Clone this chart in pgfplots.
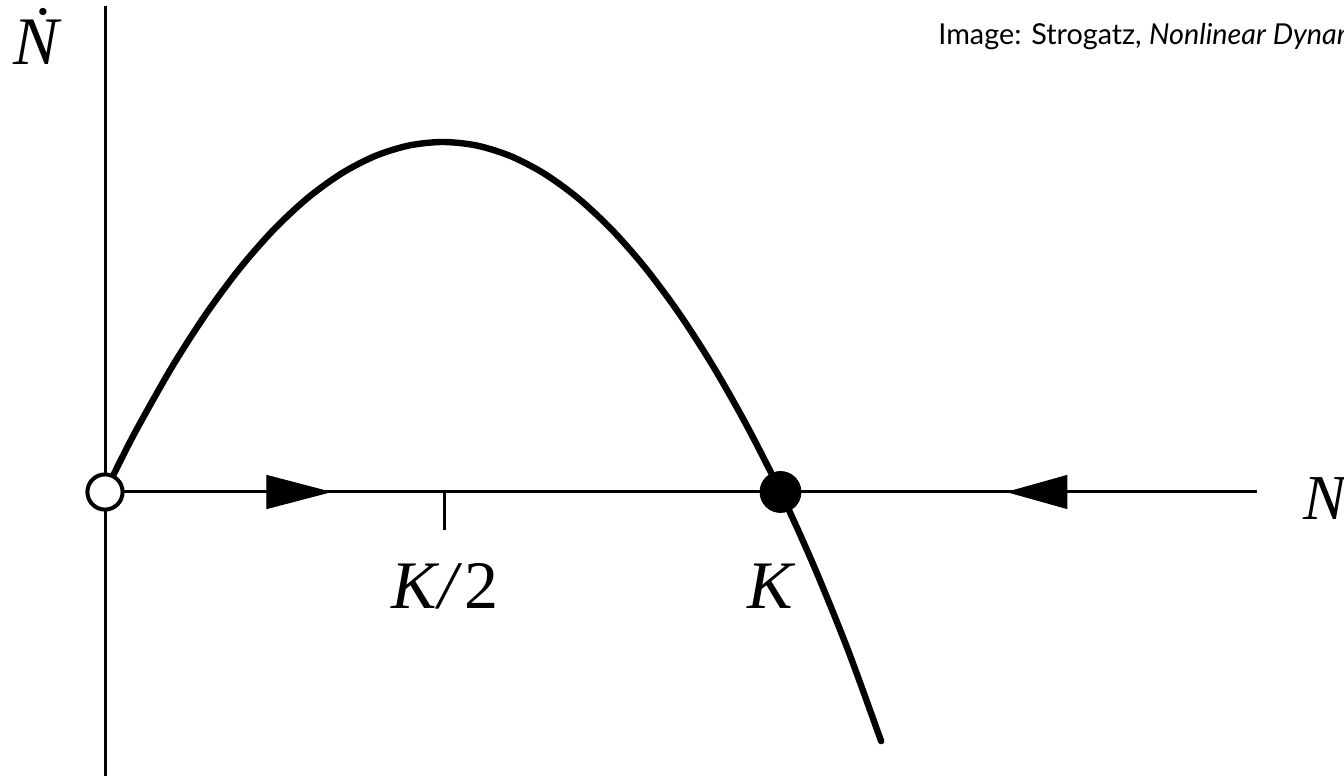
\documentclass[border=0pt]{standalone}
\usepackage{pgfplots}
\pgfplotsset{compat=1.18}
\usepackage{fontspec}
\setmainfont{Liberation Serif}
\newfontfamily\creditfont{Lato}

\begin{document}
\begin{tikzpicture}
\begin{axis}[
  at={(0,0)}, anchor=south west,
  scale only axis, width=672pt, height=388pt,
  xmin=-0.15544, xmax=1.83420,
  ymin=-0.202857, ymax=0.351429,
  hide axis, clip=false,
]
% axes of the phase line plot
\addplot[black, line width=1.5pt] coordinates {(0,-0.202857) (0,0.3471)};
\addplot[black, line width=1.5pt] coordinates {(0,0) (1.7054,0)};
% tick at K/2
\addplot[black, line width=1.5pt] coordinates {(0.5033,0) (0.5033,-0.0271)};

% logistic growth rate  dN/dt = rN(1 - N/K)
\addplot[black, line width=3.2pt, smooth, line cap=round] coordinates {
  (0,0) (0.025,0.024375) (0.05,0.0475) (0.1,0.09) (0.15,0.1275)
  (0.2,0.16) (0.25,0.1875) (0.3,0.21) (0.35,0.2275) (0.4,0.24)
  (0.45,0.2475) (0.5,0.25) (0.55,0.2475) (0.6,0.24) (0.65,0.2275)
  (0.7,0.21) (0.75,0.1875) (0.8,0.16) (0.85,0.1275) (0.9,0.09)
  (0.95,0.0475) (1.0,0) (1.05,-0.0535) (1.1,-0.113) (1.149,-0.178)
};

% flow direction arrows
\addplot[black, fill=black, line width=0.5pt] coordinates {
  (0.2398,0.01179) (0.3331,0) (0.2398,-0.01179)} -- cycle;
\addplot[black, fill=black, line width=0.5pt] coordinates {
  (1.4241,0.01179) (1.3368,0) (1.4241,-0.01179)} -- cycle;

% fixed points: unstable at 0, stable at K
\addplot[only marks, mark=*, mark size=8.8pt,
  mark options={draw=black, fill=white, line width=2pt}] coordinates {(0,0)};
\addplot[only marks, mark=*, mark size=10.25pt,
  mark options={draw=black, fill=black}] coordinates {(1.0,0)};

% labels
\node[anchor=base, font=\fontsize{34}{40}\selectfont] at (axis cs:0.5033,-0.08286) {\textit{K\kern1pt/}\kern1pt2};
\node[anchor=base, font=\fontsize{34}{40}\selectfont] at (axis cs:0.9874,-0.08286) {\textit{K}};
\node[anchor=base west, inner sep=0pt, font=\fontsize{32}{38}\selectfont] at (axis cs:1.7735,-0.02) {\textit{N}};
\node[anchor=base west, inner sep=0pt, font=\fontsize{34}{40}\selectfont] at (axis cs:-0.1362,0.3057) {\textit{\.N}};
\node[anchor=base west, inner sep=0pt, font=\creditfont\fontsize{14.4}{17}\selectfont] at (axis cs:1.2332,0.3193)
  {Image: Strogatz, \textit{Nonlinear Dynamics and Chaos}};
\end{axis}
\pgfresetboundingbox
\path[use as bounding box] (0,0) rectangle (672pt,388pt);
\end{tikzpicture}
\end{document}
